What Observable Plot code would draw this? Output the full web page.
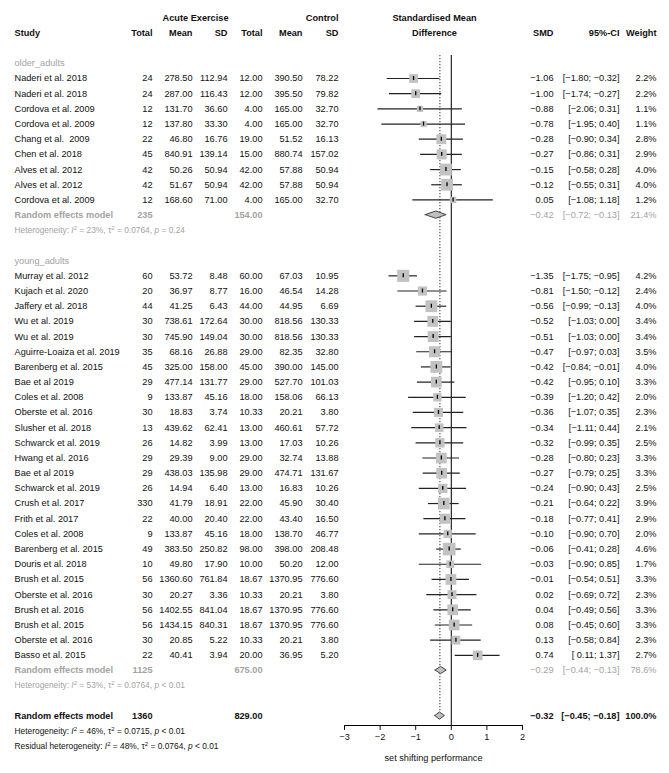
<!DOCTYPE html>
<html>
<head>
<meta charset="utf-8">
<script src="https://cdn.jsdelivr.net/npm/d3@7"></script>
<script src="https://cdn.jsdelivr.net/npm/@observablehq/plot@0.6"></script>
<style>
  body { margin: 0; background: #fff; }
  #chart svg { display: block; }
</style>
</head>
<body>
<div id="chart"></div>
<script>
// ---------------- data ----------------
const studyLabels = [
  "Naderi et al. 2018", "Naderi et al. 2018", "Cordova et al. 2009", "Cordova et al. 2009",
  "Chang et al.  2009", "Chen et al. 2018", "Alves et al. 2012", "Alves et al. 2012", "Cordova et al. 2009",
  "Murray et al. 2012", "Kujach et al. 2020", "Jaffery et al. 2018", "Wu et al. 2019", "Wu et al. 2019",
  "Aguirre-Loaiza et al. 2019", "Barenberg et al. 2015", "Bae et al 2019", "Coles et al. 2008",
  "Oberste et al. 2016", "Slusher et al. 2018", "Schwarck et al. 2019", "Hwang et al. 2016", "Bae et al 2019",
  "Schwarck et al. 2019", "Crush et al. 2017", "Frith et al. 2017", "Coles et al. 2008", "Barenberg et al. 2015",
  "Douris et al. 2018", "Brush et al. 2015", "Oberste et al. 2016", "Brush et al. 2016", "Brush et al. 2015",
  "Oberste et al. 2016", "Basso et al. 2015"
];
const studyGroup = [
  ...Array(9).fill("older_adults"),
  ...Array(26).fill("young_adults")
];
const expTotal = [24, 24, 12, 12, 22, 45, 42, 42, 12,
  60, 20, 44, 30, 30, 35, 45, 29, 9, 30, 13, 26, 29, 29, 26, 330, 22, 9, 49, 10, 56, 30, 56, 56, 30, 22];
const expMean = [278.50, 287.00, 131.70, 137.80, 46.80, 840.91, 50.26, 51.67, 168.60,
  53.72, 36.97, 41.25, 738.61, 745.90, 68.16, 325.00, 477.14, 133.87, 18.83, 439.62, 14.82, 29.39, 438.03,
  14.94, 41.79, 40.00, 133.87, 383.50, 49.80, 1360.60, 20.27, 1402.55, 1434.15, 20.85, 40.41];
const expSD = [112.94, 116.43, 36.60, 33.30, 16.76, 139.14, 50.94, 50.94, 71.00,
  8.48, 8.77, 6.43, 172.64, 149.04, 26.88, 158.00, 131.77, 45.16, 3.74, 62.41, 3.99, 9.00, 135.98,
  6.40, 18.91, 20.40, 45.16, 250.82, 17.90, 761.84, 3.36, 841.04, 840.31, 5.22, 3.94];
const ctrlTotal = [12.00, 12.00, 4.00, 4.00, 19.00, 15.00, 42.00, 42.00, 4.00,
  60.00, 16.00, 44.00, 30.00, 30.00, 29.00, 45.00, 29.00, 18.00, 10.33, 13.00, 13.00, 29.00, 29.00,
  13.00, 22.00, 22.00, 18.00, 98.00, 10.00, 18.67, 10.33, 18.67, 18.67, 10.33, 20.00];
const ctrlMean = [390.50, 395.50, 165.00, 165.00, 51.52, 880.74, 57.88, 57.88, 165.00,
  67.03, 46.54, 44.95, 818.56, 818.56, 82.35, 390.00, 527.70, 158.06, 20.21, 460.61, 17.03, 32.74, 474.71,
  16.83, 45.90, 43.40, 138.70, 398.00, 50.20, 1370.95, 20.21, 1370.95, 1370.95, 20.21, 36.95];
const ctrlSD = [78.22, 79.82, 32.70, 32.70, 16.13, 157.02, 50.94, 50.94, 32.70,
  10.95, 14.28, 6.69, 130.33, 130.33, 32.80, 145.00, 101.03, 66.13, 3.80, 57.72, 10.26, 13.88, 131.67,
  10.26, 30.40, 16.50, 46.77, 208.48, 12.00, 776.60, 3.80, 776.60, 776.60, 3.80, 5.20];
const smd = [-1.06, -1.00, -0.88, -0.78, -0.28, -0.27, -0.15, -0.12, 0.05,
  -1.35, -0.81, -0.56, -0.52, -0.51, -0.47, -0.42, -0.42, -0.39, -0.36, -0.34, -0.32, -0.28, -0.27,
  -0.24, -0.21, -0.18, -0.10, -0.06, -0.03, -0.01, 0.02, 0.04, 0.08, 0.13, 0.74];
const ciLower = [-1.80, -1.74, -2.06, -1.95, -0.90, -0.86, -0.58, -0.55, -1.08,
  -1.75, -1.50, -0.99, -1.03, -1.03, -0.97, -0.84, -0.95, -1.20, -1.07, -1.11, -0.99, -0.80, -0.79,
  -0.90, -0.64, -0.77, -0.90, -0.41, -0.90, -0.54, -0.69, -0.49, -0.45, -0.58, 0.11];
const ciUpper = [-0.32, -0.27, 0.31, 0.40, 0.34, 0.31, 0.28, 0.31, 1.18,
  -0.95, -0.12, -0.13, 0.00, 0.00, 0.03, -0.01, 0.10, 0.42, 0.35, 0.44, 0.35, 0.23, 0.25,
  0.43, 0.22, 0.41, 0.70, 0.28, 0.85, 0.51, 0.72, 0.56, 0.60, 0.84, 1.37];
const weightPct = [2.2, 2.2, 1.1, 1.1, 2.8, 2.9, 4.0, 4.0, 1.2,
  4.2, 2.4, 4.0, 3.4, 3.4, 3.5, 4.0, 3.3, 2.0, 2.3, 2.1, 2.5, 3.3, 3.3,
  2.5, 3.9, 2.9, 2.0, 4.6, 1.7, 3.3, 2.3, 3.3, 3.3, 2.3, 2.7];

// subgroup summaries
const subgroups = ["older_adults", "young_adults"];
const subTotalE = [235, 1125];
const subTotalC = [154.00, 675.00];
const subSMD = [-0.42, -0.29];
const subLower = [-0.72, -0.44];
const subUpper = [-0.13, -0.13];
const subWeight = [21.4, 78.6];
const subI2 = [23, 53];
const subTau2 = ["0.0764", "0.0764"];
const subP = ["= 0.24", "< 0.01"];

// overall
const overallTotalE = 1360;
const overallTotalC = 829.00;
const overallSMD = -0.32;
const overallLower = -0.45;
const overallUpper = -0.18;
const overallWeight = 100.0;
const overallI2 = 46, overallTau2 = "0.0715", overallP = "< 0.01";
const residI2 = 48, residTau2 = "0.0764", residP = "< 0.01";

const xTicks = [-3, -2, -1, 0, 1, 2];
const axisTitle = "set shifting performance";

// ---------------- layout helpers ----------------
const W = 669, H = 773;
const ML = 344, MR = W - 522, MT = 55, MB = H - 725;
const ROW0 = 78, ROWH = 15.18;
const FS = 9.2, FS_HET = 8.4;
const BLACK = "#111", GRAY = "#a3a3a3";

const minus = s => s.replace(/-/g, "\u2212");
const f2 = v => minus(v.toFixed(2));
const fCI = (l, h) => "[" + (l < 0 ? "" : " ") + f2(l) + "; " + f2(h) + "]";
const fW = v => v.toFixed(1) + "%";

// build row table
const rows = [];
const studies = [];
const diamonds = [];
let r = -1;
subgroups.forEach((g, gi) => {
  rows.push({row: r, kind: "group", label: g, color: GRAY}); r++;
  studyLabels.forEach((s, i) => {
    if (studyGroup[i] !== g) return;
    const d = {row: r, kind: "study", label: s, color: BLACK,
      eT: String(expTotal[i]), eM: expMean[i].toFixed(2), eS: expSD[i].toFixed(2),
      cT: ctrlTotal[i].toFixed(2), cM: ctrlMean[i].toFixed(2), cS: ctrlSD[i].toFixed(2),
      smd: f2(smd[i]), ci: fCI(ciLower[i], ciUpper[i]), w: fW(weightPct[i]),
      est: smd[i], lo: ciLower[i], hi: ciUpper[i], wt: weightPct[i]};
    rows.push(d); studies.push(d); r++;
  });
  rows.push({row: r, kind: "random", label: "Random effects model", color: GRAY,
    eT: String(subTotalE[gi]), cT: subTotalC[gi].toFixed(2),
    smd: f2(subSMD[gi]), ci: fCI(subLower[gi], subUpper[gi]), w: fW(subWeight[gi])});
  diamonds.push({row: r, est: subSMD[gi], lo: subLower[gi], hi: subUpper[gi], id: g});
  r++;
  rows.push({row: r, kind: "het", color: GRAY,
    label: `Heterogeneity: I² = ${subI2[gi]}%, τ² = ${subTau2[gi]}, p ${subP[gi]}`});
  r++;
  r++; // blank
});
const overallRow = r;
rows.push({row: r, kind: "overall", label: "Random effects model", color: BLACK,
  eT: String(overallTotalE), cT: overallTotalC.toFixed(2),
  smd: f2(overallSMD), ci: fCI(overallLower, overallUpper), w: fW(overallWeight)});
diamonds.push({row: r, est: overallSMD, lo: overallLower, hi: overallUpper, id: "overall"});
r++;
rows.push({row: r, kind: "het", color: BLACK,
  label: `Heterogeneity: I² = ${overallI2}%, τ² = ${overallTau2}, p ${overallP}`}); r++;
rows.push({row: r, kind: "het", color: BLACK,
  label: `Residual heterogeneity: I² = ${residI2}%, τ² = ${residTau2}, p ${residP}`}); r++;
const lastRow = r - 1;

// header rows
const HEAD1 = -4, HEAD2 = -3;
const headers = [
  {text: "Acute Exercise", px: 228, anchor: "end", row: HEAD1},
  {text: "Control", px: 338, anchor: "end", row: HEAD1},
  {text: "Standardised Mean", px: 434, anchor: "middle", row: HEAD1},
  {text: "Study", px: 14, anchor: "start", row: HEAD2},
  {text: "Total", px: 152, anchor: "end", row: HEAD2},
  {text: "Mean", px: 192, anchor: "end", row: HEAD2},
  {text: "SD", px: 227, anchor: "end", row: HEAD2},
  {text: "Total", px: 262, anchor: "end", row: HEAD2},
  {text: "Mean", px: 302, anchor: "end", row: HEAD2},
  {text: "SD", px: 338, anchor: "end", row: HEAD2},
  {text: "Difference", px: 434, anchor: "middle", row: HEAD2},
  {text: "SMD", px: 553, anchor: "end", row: HEAD2},
  {text: "95%-CI", px: 619, anchor: "end", row: HEAD2},
  {text: "Weight", px: 656, anchor: "end", row: HEAD2}
];

// table columns
const cols = [
  {key: "eT", px: 152}, {key: "eM", px: 192}, {key: "eS", px: 227},
  {key: "cT", px: 262}, {key: "cM", px: 302}, {key: "cS", px: 338},
  {key: "smd", px: 553}, {key: "ci", px: 619}, {key: "w", px: 656}
];

// diamond polygons
const DH = 0.24;
const diamondPts = diamonds.flatMap(d => [
  {id: d.id, x: d.lo, y1: d.row, y2: d.row},
  {id: d.id, x: d.est, y1: d.row - DH, y2: d.row + DH},
  {id: d.id, x: d.hi, y1: d.row, y2: d.row}
]);

const isBoldLabel = d => d.kind === "random" || d.kind === "overall";
const isBoldCell = (d, key) => d.kind === "overall" || (d.kind === "random" && (key === "eT" || key === "cT"));

const textMarks = [];
// label column (normal / bold)
textMarks.push(Plot.text(rows.filter(d => !isBoldLabel(d)), {
  y: "row", text: "label", frameAnchor: "left", dx: 14 - ML, textAnchor: "start",
  fill: "color", fontSize: d => d.kind === "het" ? FS_HET : FS
}));
textMarks.push(Plot.text(rows.filter(isBoldLabel), {
  y: "row", text: "label", frameAnchor: "left", dx: 14 - ML, textAnchor: "start",
  fill: "color", fontSize: FS, fontWeight: "bold"
}));
cols.forEach(c => {
  const data = rows.filter(d => d[c.key] != null);
  textMarks.push(Plot.text(data.filter(d => !isBoldCell(d, c.key)), {
    y: "row", text: c.key, frameAnchor: "left", dx: c.px - ML, textAnchor: "end",
    fill: "color", fontSize: FS
  }));
  textMarks.push(Plot.text(data.filter(d => isBoldCell(d, c.key)), {
    y: "row", text: c.key, frameAnchor: "left", dx: c.px - ML, textAnchor: "end",
    fill: "color", fontSize: FS, fontWeight: "bold"
  }));
});
headers.forEach(h => {
  textMarks.push(Plot.text([h], {
    y: "row", text: "text", frameAnchor: "left", dx: h.px - ML,
    textAnchor: h.anchor, fontWeight: "bold", fill: BLACK, fontSize: FS
  }));
});

const chart = Plot.plot({
  width: W, height: H,
  marginLeft: ML, marginRight: MR, marginTop: MT, marginBottom: MB,
  style: {fontFamily: "'Liberation Sans', Arial, sans-serif", fontSize: FS + "px", background: "#fff", color: BLACK},
  x: {type: "linear", domain: [-3, 2], axis: null},
  y: {type: "linear", domain: [HEAD1, lastRow], range: [ROW0 + HEAD1 * ROWH, ROW0 + lastRow * ROWH], axis: null},
  r: {type: "identity"},
  marks: [
    Plot.ruleX([0], {stroke: "#111", strokeWidth: 1.1}),
    Plot.ruleX([overallSMD], {y1: (MT - ROW0) / ROWH, y2: overallRow - DH, stroke: "#333", strokeDasharray: "1.3,1.7", strokeWidth: 1}),
    Plot.ruleY(studies, {y: "row", x1: "lo", x2: "hi", stroke: "#222", strokeWidth: 1.2}),
    Plot.dot(studies, {x: "est", y: "row", symbol: "square", r: d => 5.9 * Math.sqrt(d.wt) / Math.sqrt(Math.PI), fill: "#c2c2c2", stroke: "none"}),
    Plot.ruleX(studies, {x: "est", y1: d => d.row - 0.13, y2: d => d.row + 0.13, stroke: "#000", strokeWidth: 1.3}),
    Plot.areaY(diamondPts, {x: "x", y1: "y1", y2: "y2", z: "id", fill: "#bfbfbf", stroke: "#444", strokeWidth: 1, curve: "linear"}),
    Plot.frame({anchor: "bottom", stroke: "#000"}),
    Plot.axisX({ticks: xTicks, tickSize: 5, tickPadding: 3, label: null, fontSize: FS, tickFormat: d => minus(String(d))}),
    Plot.text([axisTitle], {frameAnchor: "bottom", dy: 35, text: d => d, fontSize: FS, fill: BLACK}),
    ...textMarks
  ]
});

// rich formatting of heterogeneity statistics (italic I and p, superscript 2)
const SVGNS = "http://www.w3.org/2000/svg";
chart.querySelectorAll("text").forEach(t => {
  const s = t.textContent;
  if (!/heterogeneity:/i.test(s)) return;
  while (t.firstChild) t.removeChild(t.firstChild);
  const parts = s.split(/(I²|τ²| p )/).filter(p => p);
  let pendingDy = null;
  const add = (txt, attrs = {}) => {
    const ts = document.createElementNS(SVGNS, "tspan");
    if (pendingDy != null && !("dy" in attrs)) { ts.setAttribute("dy", pendingDy); pendingDy = null; }
    for (const k in attrs) ts.setAttribute(k, attrs[k]);
    ts.textContent = txt;
    t.appendChild(ts);
  };
  parts.forEach(p => {
    if (p === "I²") { add("I", {"font-style": "italic"}); add("2", {"font-size": "6", "dy": "-3"}); pendingDy = "3"; }
    else if (p === "τ²") { add("τ"); add("2", {"font-size": "6", "dy": "-3"}); pendingDy = "3"; }
    else if (p === " p ") { add(" "); add("p", {"font-style": "italic"}); add(" "); }
    else add(p);
  });
});

document.getElementById("chart").appendChild(chart);
</script>
</body>
</html>
